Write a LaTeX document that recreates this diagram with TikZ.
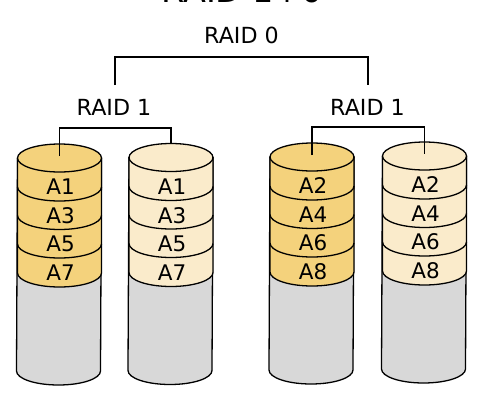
\documentclass[tikz,border=0pt]{standalone}
\usepackage{fontspec}
\setmainfont{DejaVu Sans}
\definecolor{golddisk}{HTML}{F4D27C}
\definecolor{paledisk}{HTML}{FAEBCB}
\definecolor{emptydisk}{HTML}{D8D8D8}
\tikzset{
  outline/.style={draw=black,line width=1.3pt,line join=round},
  seglabel/.style={font=\fontsize{21.5}{22}\selectfont,inner sep=0pt,text=black},
  raidlabel/.style={font=\fontsize{22.2}{23}\selectfont,inner sep=0pt,text=black},
  titlelabel/.style={font=\fontsize{33.4}{34}\selectfont,inner sep=0pt,anchor=base},
  bracket/.style={draw=black,line width=1.2pt}
}
% #1 name, #2 left x, #3 top-ellipse centre y, #4 colour, #5..#8 labels
\newcommand{\raiddrum}[8]{%
  \coordinate (#1top) at (#2+42,#3-14);
  \coordinate (#1mid) at (#2+42,#3-2);
  \path[outline,fill=emptydisk] (#2,#3) -- (#2-1,#3+213) arc[start angle=180,end angle=360,x radius=42pt,y radius=14pt] -- (#2+84,#3) -- cycle;
  \path[outline,fill=#4] (#2,#3) -- (#2,#3+115) arc[start angle=180,end angle=360,x radius=42pt,y radius=14pt] -- (#2+84,#3) -- cycle;
  \draw[outline] (#2,#3+86) arc[start angle=180,end angle=360,x radius=42pt,y radius=14pt];
  \draw[outline] (#2,#3+57.5) arc[start angle=180,end angle=360,x radius=42pt,y radius=14pt];
  \draw[outline] (#2,#3+29) arc[start angle=180,end angle=360,x radius=42pt,y radius=14pt];
  \path[outline,fill=#4] (#2+42,#3) ellipse[x radius=42pt,y radius=14pt];
  \node[seglabel] (#1a) at (#2+43,#3+29) {#5};
  \node[seglabel] (#1b) at (#2+43,#3+58) {#6};
  \node[seglabel] (#1c) at (#2+43,#3+86) {#7};
  \node[seglabel] (#1d) at (#2+43,#3+115) {#8};
}
\begin{document}
\begin{tikzpicture}[x=1pt,y=-1pt]
  \clip (0,0) rectangle (480,400);
  \fill[white] (0,0) rectangle (480,400);
  \node[titlelabel] (title) at (242,2) {RAID 1+0};
  \node[raidlabel] (raidzero) at (241.5,35) {RAID 0};
  \node[raidlabel] (raidonea) at (114,107) {RAID 1};
  \node[raidlabel] (raidoneb) at (367.5,107) {RAID 1};
  \raiddrum{da}{17.5}{158}{golddisk}{A1}{A3}{A5}{A7}
  \raiddrum{db}{129}{157.5}{paledisk}{A1}{A3}{A5}{A7}
  \raiddrum{dc}{270}{157}{golddisk}{A2}{A4}{A6}{A8}
  \raiddrum{dd}{382.5}{156}{paledisk}{A2}{A4}{A6}{A8}
  \coordinate (zl) at (115,85);
  \coordinate (zr) at (368,85);
  \draw[bracket] (zl) -- (115,57) -- (368,57) -- (zr);
  \draw[bracket] (damid) -- (59.5,128) -- (171,128) -- (dbtop);
  \draw[bracket] (dcmid) -- (312,127) -- (424.5,127) -- (ddmid);
\end{tikzpicture}
\end{document}
